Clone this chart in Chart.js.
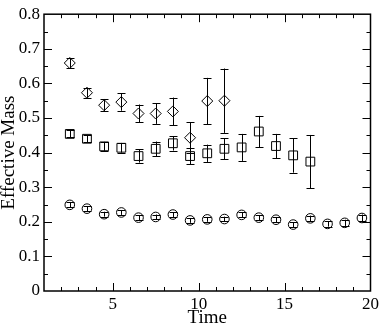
<!DOCTYPE html>
<html>
<head>
<meta charset="utf-8">
<script src="https://cdn.jsdelivr.net/npm/chart.js@4/dist/chart.umd.min.js"></script>
<style>
  html, body { margin: 0; padding: 0; background: #fff; }
  #wrap { width: 382px; height: 326px; }
</style>
</head>
<body>
<div id="wrap"><canvas id="myChart" width="382" height="326"></canvas></div>
<script>
// time slices
const circleTime = [2.5, 3.5, 4.5, 5.5, 6.5, 7.5, 8.5, 9.5, 10.5, 11.5, 12.5, 13.5, 14.5, 15.5, 16.5, 17.5, 18.5, 19.5];
const squareTime = [2.5, 3.5, 4.5, 5.5, 6.5, 7.5, 8.5, 9.5, 10.5, 11.5, 12.5, 13.5, 14.5, 15.5, 16.5];
const diamondTime = [2.5, 3.5, 4.5, 5.5, 6.5, 7.5, 8.5, 9.5, 10.5, 11.5];

// effective masses and errors
const circleMass = [0.249, 0.238, 0.222, 0.227, 0.212, 0.214, 0.221, 0.204, 0.207, 0.208, 0.220, 0.212, 0.206, 0.192, 0.210, 0.194, 0.197, 0.211];
const circleErr = [0.007, 0.007, 0.007, 0.007, 0.007, 0.007, 0.007, 0.007, 0.007, 0.007, 0.007, 0.007, 0.007, 0.007, 0.008, 0.008, 0.009, 0.010];
const squareMass = [0.454, 0.440, 0.418, 0.414, 0.390, 0.411, 0.427, 0.390, 0.398, 0.411, 0.415, 0.461, 0.419, 0.392, 0.374];
const squareErr = [0.010, 0.010, 0.013, 0.014, 0.019, 0.021, 0.021, 0.023, 0.025, 0.030, 0.039, 0.045, 0.035, 0.050, 0.077];
const diamondMass = [0.659, 0.573, 0.537, 0.546, 0.513, 0.513, 0.519, 0.443, 0.549, 0.550];
const diamondErr = [0.014, 0.014, 0.018, 0.025, 0.026, 0.030, 0.040, 0.045, 0.067, 0.093];

const xLabels = [5, 10, 15, 20];
const yLabels = [0, 0.1, 0.2, 0.3, 0.4, 0.5, 0.6, 0.7, 0.8];

function toPoints(xs, ys) {
    return xs.map(function (x, i) { return { x: x, y: ys[i] }; });
}

// error bars + inward ticks + frame
const extras = {
    id: 'extras',
    afterDatasetsDraw(chart) {
        const ctx = chart.ctx;
        const xs = chart.scales.x, ys = chart.scales.y;
        ctx.save();
        ctx.strokeStyle = '#000';
        ctx.lineWidth = 1;
        chart.data.datasets.forEach(function (ds) {
            ds.data.forEach(function (p, i) {
                const e = ds.errors[i];
                const px = Math.round(xs.getPixelForValue(p.x)) + 0.5;
                const y1 = ys.getPixelForValue(p.y + e);
                const y2 = ys.getPixelForValue(p.y - e);
                ctx.beginPath();
                ctx.moveTo(px, y1); ctx.lineTo(px, y2);
                ctx.moveTo(px - 4, Math.round(y1) + 0.5); ctx.lineTo(px + 4, Math.round(y1) + 0.5);
                ctx.moveTo(px - 4, Math.round(y2) + 0.5); ctx.lineTo(px + 4, Math.round(y2) + 0.5);
                ctx.stroke();
            });
        });

        const a = chart.chartArea;
        ctx.lineWidth = 1.5;
        ctx.strokeRect(a.left, a.top, a.right - a.left, a.bottom - a.top);
        ctx.lineWidth = 1;
        ctx.beginPath();
        for (let v = 2; v <= 19; v++) {
            const px = Math.round(xs.getPixelForValue(v)) + 0.5;
            const len = v % 5 === 0 ? 8 : 4;
            ctx.moveTo(px, a.bottom); ctx.lineTo(px, a.bottom - len);
            ctx.moveTo(px, a.top); ctx.lineTo(px, a.top + len);
        }
        for (let k = 1; k < 16; k++) {
            const py = Math.round(ys.getPixelForValue(k * 0.05)) + 0.5;
            const len = k % 2 === 0 ? 8 : 4;
            ctx.moveTo(a.left, py); ctx.lineTo(a.left + len, py);
            ctx.moveTo(a.right, py); ctx.lineTo(a.right - len, py);
        }
        ctx.stroke();
        ctx.restore();
    }
};

const tickFont = { family: '"Liberation Serif", "Times New Roman", serif', size: 17 };
const titleFont = { family: '"Liberation Serif", "Times New Roman", serif', size: 19, lineHeight: 1 };

const ctx = document.getElementById('myChart').getContext('2d');
const myChart = new Chart(ctx, {
    type: 'scatter',
    data: {
        datasets: [{
            label: 'diamond',
            data: toPoints(diamondTime, diamondMass),
            errors: diamondErr,
            pointStyle: 'rectRot',
            pointRadius: 5.5,
            borderColor: '#000',
            backgroundColor: 'rgba(0,0,0,0)',
            borderWidth: 1
        }, {
            label: 'square',
            data: toPoints(squareTime, squareMass),
            errors: squareErr,
            pointStyle: 'rect',
            pointRadius: 6.2,
            borderColor: '#000',
            backgroundColor: 'rgba(0,0,0,0)',
            borderWidth: 1
        }, {
            label: 'circle',
            data: toPoints(circleTime, circleMass),
            errors: circleErr,
            pointStyle: 'circle',
            pointRadius: 4.8,
            borderColor: '#000',
            backgroundColor: 'rgba(0,0,0,0)',
            borderWidth: 1
        }]
    },
    options: {
        responsive: false,
        animation: false,
        layout: { padding: { top: 7, right: 11, left: 0, bottom: 0 } },
        plugins: {
            legend: { display: false },
            tooltip: { enabled: false }
        },
        scales: {
            x: {
                type: 'linear',
                min: 1,
                max: 20,
                afterBuildTicks: function (scale) {
                    scale.ticks = xLabels.map(function (v) { return { value: v }; });
                },
                afterFit: function (scale) { scale.height = 35; },
                grid: { display: false, drawTicks: false },
                border: { display: false },
                ticks: { color: '#000', font: tickFont, padding: 3, maxRotation: 0 },
                title: { display: true, text: 'Time', color: '#000', font: titleFont, padding: { top: 0, bottom: -2 } }
            },
            y: {
                min: 0,
                max: 0.8,
                afterBuildTicks: function (scale) {
                    scale.ticks = yLabels.map(function (v) { return { value: v }; });
                },
                afterFit: function (scale) { scale.width = 44; },
                grid: { display: false, drawTicks: false },
                border: { display: false },
                ticks: {
                    color: '#000', font: tickFont, padding: 4,
                    callback: function (v) { return v === 0 ? '0' : v.toFixed(1); }
                },
                title: { display: true, text: 'Effective Mass', color: '#000', font: titleFont, padding: 0 }
            }
        }
    },
    plugins: [extras]
});
</script>
</body>
</html>
